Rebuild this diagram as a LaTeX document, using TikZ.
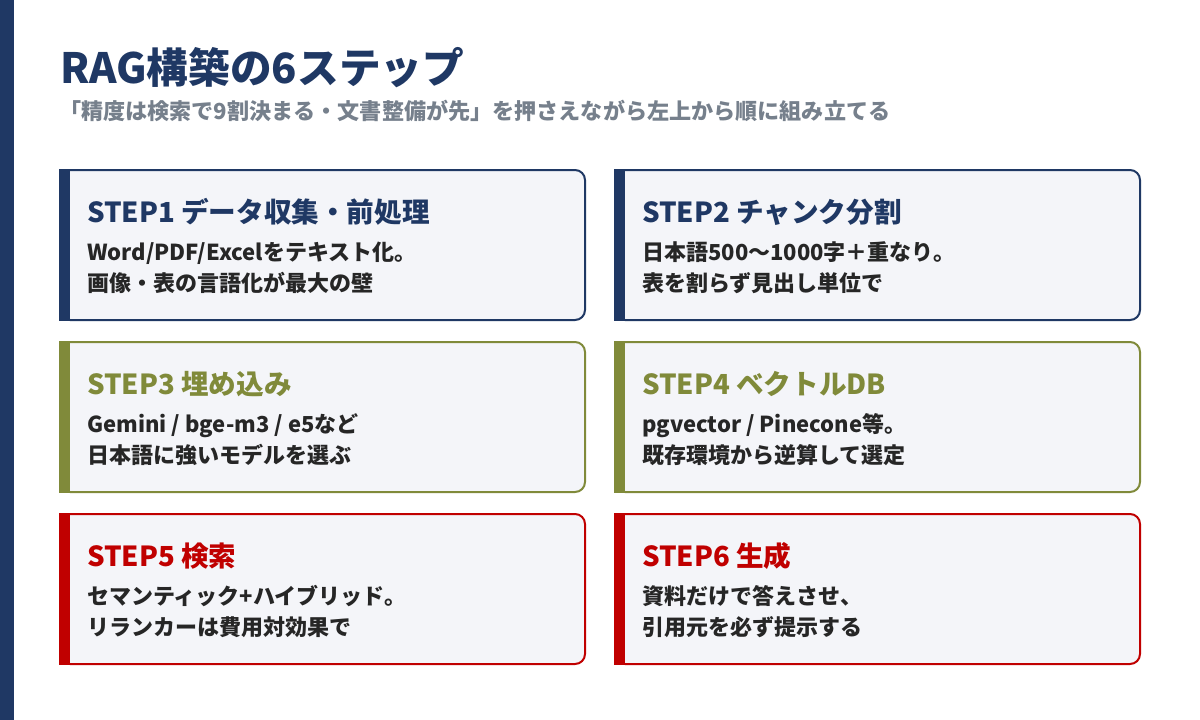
\documentclass[tikz,border=0pt]{standalone}
\usepackage{fontspec}
\setmainfont{Noto Sans CJK JP}
\definecolor{navy}{RGB}{31,56,100}
\definecolor{olive}{RGB}{128,138,58}
\definecolor{stepred}{RGB}{192,0,0}
\definecolor{cardfill}{RGB}{244,245,249}
\definecolor{bodytext}{RGB}{38,38,38}
\definecolor{subgray}{RGB}{118,128,140}
\tikzset{
  cardbox/.style={draw=#1, line width=2pt, fill=cardfill, rounded corners=10pt},
  cardbar/.style={fill=#1, draw=none},
  cardtitle/.style={anchor=base west, inner sep=0pt, text=#1, font=\fontsize{27.6}{32}\selectfont\bfseries},
  cardbody/.style={anchor=base west, inner sep=0pt, text=bodytext, font=\fontsize{22}{26}\selectfont\bfseries},
}
\newcommand{\stepcard}[7]{%
  % #1 name, #2 x0, #3 y0, #4 colour, #5 title, #6 line1, #7 line2
  \path[cardbox=#4] (#2,#3) rectangle ++(525,150);
  \path[cardbar=#4] (#2-1,#3-1) rectangle ++(11,152);
  \node[cardtitle=#4] (#1title) at (#2+27,#3+52) {#5};
  \node[cardbody] (#1a) at (#2+27,#3+90) {#6};
  \node[cardbody] (#1b) at (#2+27,#3+121) {#7};
}
\begin{document}
\begin{tikzpicture}[x=1pt,y=-1pt]
\useasboundingbox (0,0) rectangle (1200,720);
\fill[white] (0,0) rectangle (1200,720);
\fill[navy] (0,0) rectangle (14,720);
\node[anchor=base west, inner sep=0pt, text=navy, font=\fontsize{41.7}{48}\selectfont\bfseries] (title) at (60,83) {RAG構築の6ステップ};
\node[anchor=base west, inner sep=0pt, text=subgray, font=\fontsize{22.1}{26}\selectfont\bfseries] (subtitle) at (59,119) {「精度は検索で9割決まる・文書整備が先」を押さえながら左上から順に組み立てる};
\stepcard{s1}{60}{170}{navy}{STEP1 データ収集・前処理}{Word/PDF/Excelをテキスト化。}{画像・表の言語化が最大の壁}
\stepcard{s2}{615}{170}{navy}{STEP2 チャンク分割}{日本語500〜1000字＋重なり。}{表を割らず見出し単位で}
\stepcard{s3}{60}{342}{olive}{STEP3 埋め込み}{Gemini / bge-m3 / e5など}{日本語に強いモデルを選ぶ}
\stepcard{s4}{615}{342}{olive}{STEP4 ベクトルDB}{pgvector / Pinecone等。}{既存環境から逆算して選定}
\stepcard{s5}{60}{514}{stepred}{STEP5 検索}{セマンティック+ハイブリッド。}{リランカーは費用対効果で}
\stepcard{s6}{615}{514}{stepred}{STEP6 生成}{資料だけで答えさせ、}{引用元を必ず提示する}
\end{tikzpicture}
\end{document}
